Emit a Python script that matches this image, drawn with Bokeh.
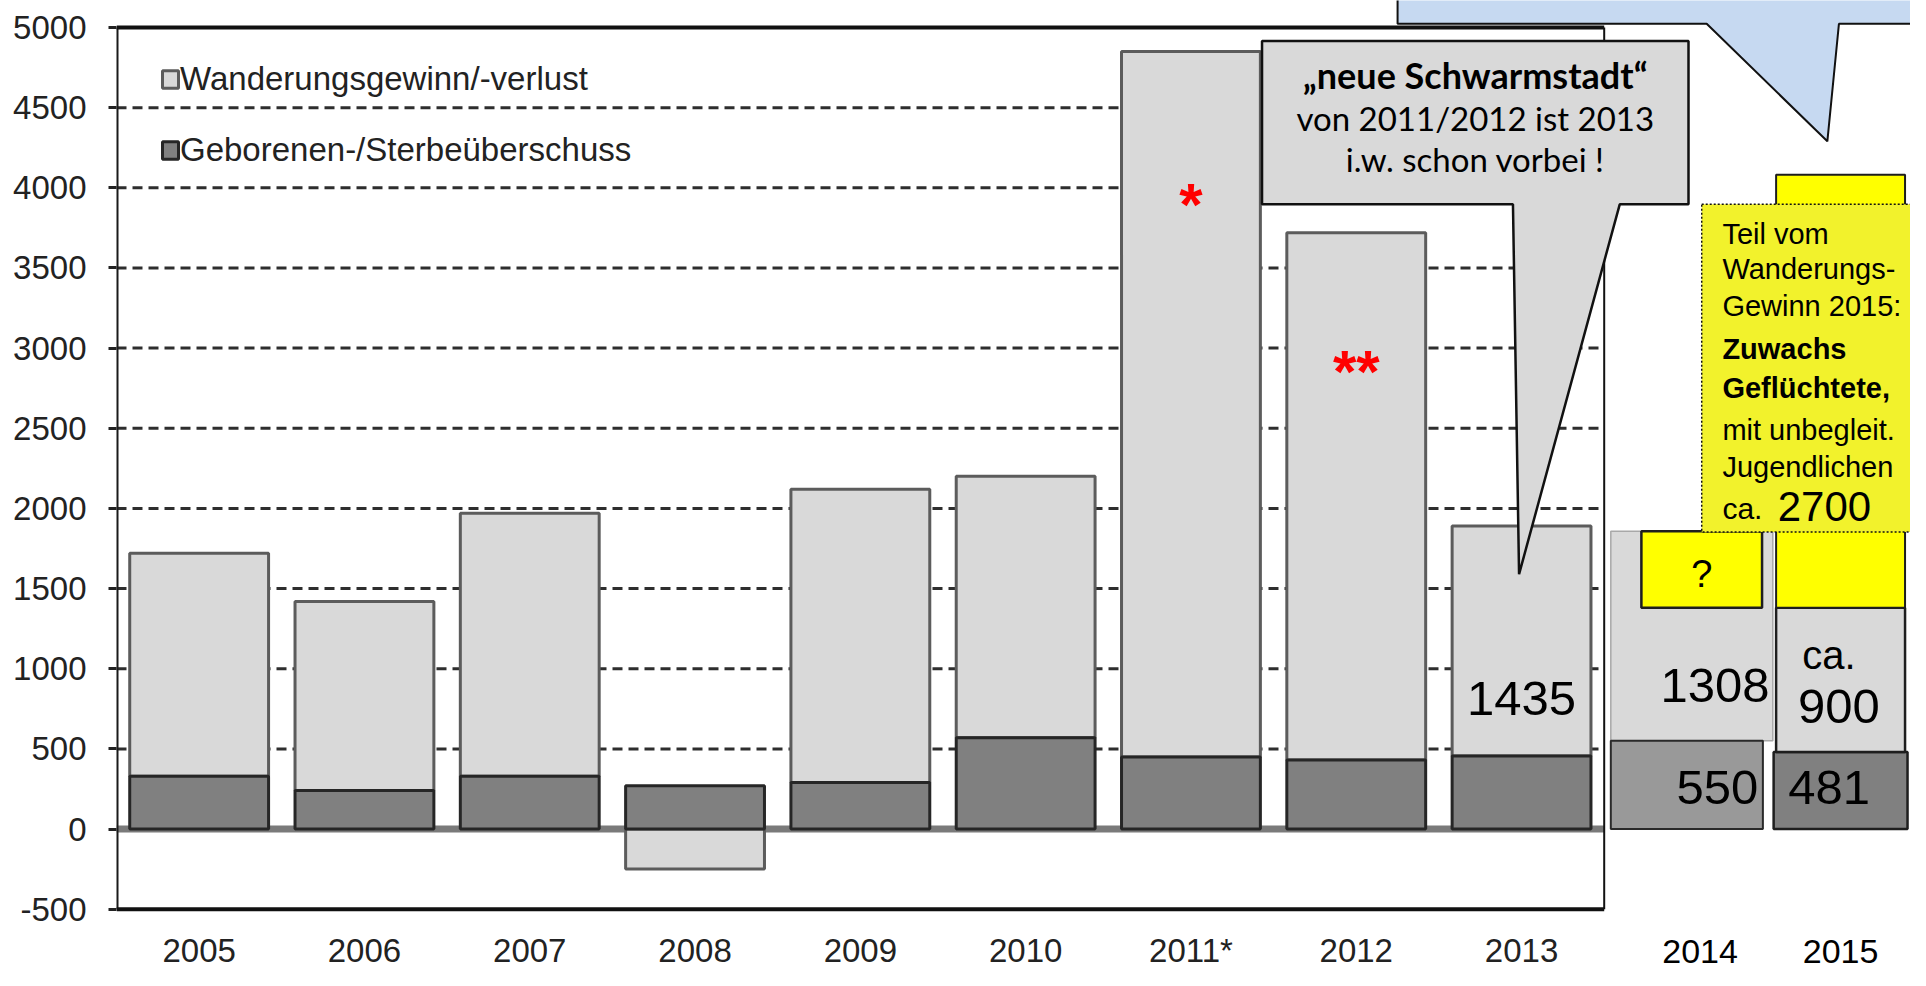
from bokeh.plotting import figure
from bokeh.models import Range1d, FixedTicker, Legend, LegendItem
from bokeh.core.properties import value
from bokeh.embed import file_html
from bokeh.resources import INLINE

# ---------------- data ----------------
years_main = ["2005", "2006", "2007", "2008", "2009", "2010", "2011*", "2012", "2013"]
natural = [330, 240, 330, 270, 290, 570, 450, 430, 455]          # Geborenen-/Sterbeüberschuss
migration = [1390, 1180, 1640, -250, 1830, 1630, 4400, 3290, 1435]  # Wanderungsgewinn/-verlust
years_extra = ["2014", "2015"]
natural_extra = [550, 481]
migration_extra = [1308, 900]
refugees_2015 = 2700
y_ticks = [-500, 0, 500, 1000, 1500, 2000, 2500, 3000, 3500, 4000, 4500, 5000]
legend_labels = ["Wanderungsgewinn/-verlust", "Geborenen-/Sterbeüberschuss"]

# ---------------- layout ----------------
W, H = 1910, 970
SANS = value("Liberation Sans")
CAL = value("Lato")

n = len(years_main)
xs = list(range(n))
x14 = n                # 2014 column
x15 = n + 0.93         # 2015 column
left_edge, right_edge = -0.5, n - 0.5
y_lo, y_hi = y_ticks[0], y_ticks[-1]

p = figure(width=W, height=H, x_range=Range1d(-0.5, 10.353), y_range=Range1d(-882.4, 5168.4),
           output_backend="svg", toolbar_location=None, x_axis_location=None,
           min_border_left=116, min_border_right=0, min_border_top=0, min_border_bottom=0)
p.outline_line_color = None
p.grid.visible = False
p.background_fill_color = "white"
p.border_fill_color = "white"

ax = p.yaxis[0]
ax.ticker = FixedTicker(ticks=y_ticks)
ax.major_label_overrides = {t: str(t) for t in y_ticks}
ax.axis_line_color = None
ax.major_tick_out = 8
ax.major_tick_in = 0
ax.major_tick_line_width = 3
ax.major_tick_line_color = "#222222"
ax.minor_tick_line_color = None
ax.major_label_text_font = "Liberation Sans"
ax.major_label_text_font_size = "33px"
ax.major_label_text_color = "#222222"
ax.major_label_standoff = 22

# gridlines (dashed), only inside the original chart frame
grid_vals = [t for t in y_ticks if y_lo < t < y_hi and t != 0]
p.segment(x0=[left_edge] * len(grid_vals), x1=[right_edge] * len(grid_vals),
          y0=grid_vals, y1=grid_vals, line_color="#2e2e2e", line_width=3, line_dash="10 6")
# zero line
p.segment(x0=[left_edge], x1=[right_edge], y0=[0], y1=[0], line_color="#7a7a7a", line_width=7)

# main stacked bars
mig_bottom = [nat if m >= 0 else 0 for nat, m in zip(natural, migration)]
mig_top = [nat + m if m >= 0 else m for nat, m in zip(natural, migration)]
r_mig = p.vbar(x=xs, bottom=mig_bottom, top=mig_top, width=0.84,
               fill_color="#d9d9d9", line_color="#5c5c5c", line_width=3)
r_nat = p.vbar(x=xs, bottom=[0] * n, top=natural, width=0.84,
               fill_color="#808080", line_color="#262626", line_width=3)

# frame of the original chart
p.segment(x0=[left_edge], x1=[left_edge], y0=[y_lo], y1=[y_hi], line_color="#1a1a1a", line_width=4)
p.segment(x0=[left_edge], x1=[right_edge], y0=[y_lo], y1=[y_lo], line_color="#111111", line_width=4)
p.segment(x0=[left_edge], x1=[right_edge], y0=[y_hi], y1=[y_hi], line_color="#111111", line_width=4)
p.segment(x0=[right_edge], x1=[right_edge], y0=[y_lo], y1=[y_hi], line_color="#111111", line_width=2)

# 2014 / 2015 add-on columns
p.vbar(x=[x14 + 0.03], bottom=[natural_extra[0]], top=[natural_extra[0] + migration_extra[0]], width=0.98,
       fill_color="#d9d9d9", line_color="#a8a8a8", line_width=1.5)
p.vbar(x=[x14], bottom=[0], top=[natural_extra[0]], width=0.92,
       fill_color="#999999", line_color="#2a2a2a", line_width=2)
p.vbar(x=[x15], bottom=[0], top=[natural_extra[1]], width=0.81,
       fill_color="#808080", line_color="#1e1e1e", line_width=2.5)
p.vbar(x=[x15], bottom=[natural_extra[1]], top=[natural_extra[1] + migration_extra[1]], width=0.78,
       fill_color="#d9d9d9", line_color="#1e1e1e", line_width=2.5)
top15 = natural_extra[1] + migration_extra[1]
p.vbar(x=[x15], bottom=[top15], top=[top15 + refugees_2015], width=0.78,
       fill_color="#ffff00", line_color="#1e1e1e", line_width=2)
# "?" box for 2014
p.vbar(x=[x14 + 0.09], bottom=[top15], top=[natural_extra[0] + migration_extra[0]], width=0.73,
       fill_color="#ffff00", line_color="#1e1e1e", line_width=2.5)

# blue speech bubble (top right)
p.patch(x=[7.25, 9.12, 9.85, 9.92, 10.6, 10.6, 7.25],
        y=[5023, 5023, 4290, 5023, 5023, 5400, 5400],
        fill_color="#c6d9f1", line_color="#111111", line_width=2)

# grey callout
p.patch(x=[6.43, 9.01, 9.01, 8.594, 7.985, 7.948, 6.43],
        y=[4916, 4916, 3897, 3897, 1590, 3897, 3897],
        fill_color="#d9d9d9", line_color="#111111", line_width=2.5)

# yellow note
p.quad(left=[9.09], right=[10.6], bottom=[1853], top=[3897],
       fill_color="#f2f22c", line_color="#111111", line_width=1.5, line_dash="2 2")


def txt(x, y, s, size, font=SANS, style="normal", color="#000000", align="center",
        baseline="middle", y_offset=0):
    p.text(x=x, y=y, text=s, text_font=font, text_font_size=size, text_font_style=value(style),
           text_color=color, text_align=align, text_baseline=baseline, y_offset=y_offset)


# x labels (below the chart frame)
txt(xs, [y_lo] * n, years_main, "33px", color="#222222", y_offset=41)
txt([x14 + 0.08, x15 + 0.0], [y_lo] * 2, years_extra, "34px", y_offset=42)

# value labels
txt([n - 1], [812], [str(migration[-1])], "49px")
txt([x14 + 0.17], [896], [str(migration_extra[0])], "49px")
txt([x14 + 0.185], [260], [str(natural_extra[0])], "49px")
txt([x15 - 0.07], [260], [str(natural_extra[1])], "49px")
txt([x15 - 0.07], [1087], ["ca."], "40px")
txt([x15 - 0.01], [766], [str(migration_extra[1])], "49px")
txt([x14 + 0.09], [1593], ["?"], "38px")

# asterisks
txt([6], [3948], ["*"], "60px", style="bold", color="#ff0000", baseline="alphabetic", y_offset=8)
txt([7], [2901], ["**"], "60px", style="bold", color="#ff0000", baseline="alphabetic", y_offset=8)

# callout text
txt([7.72], [4706], ["\u201eneue Schwarmstadt\u201c"], "36px", font=CAL, style="bold")
txt([7.72], [4438], ["von 2011/2012 ist 2013"], "33px", font=CAL)
txt([7.72], [4180], ["i.w. schon vorbei !"], "33px", font=CAL)

# yellow note text
note_lines = [("Teil vom", 3714, "normal"), ("Wanderungs-", 3492, "normal"),
              ("Gewinn 2015:", 3262, "normal"), ("Zuwachs", 2994, "bold"),
              ("Geflüchtete,", 2749, "bold"), ("mit unbegleit.", 2488, "normal"),
              ("Jugendlichen", 2259, "normal")]
for s, yv, st in note_lines:
    txt([9.215], [yv], [s], "29px", style=st, align="left")
txt([9.215], [1998], ["ca."], "30px", align="left")
txt([9.55], [2010], [str(refugees_2015)], "42px", align="left")

legend = Legend(items=[LegendItem(label=legend_labels[0], renderers=[r_mig]),
                       LegendItem(label=legend_labels[1], renderers=[r_nat])],
                location="top_left", margin=44, padding=0, border_line_color=None,
                background_fill_alpha=0, label_text_font="Liberation Sans",
                label_text_font_size="33px", label_text_color="#222222",
                glyph_width=20, glyph_height=22, label_height=70, spacing=1, label_standoff=0)
p.add_layout(legend)

open("out.html", "w").write(file_html(p, INLINE))
